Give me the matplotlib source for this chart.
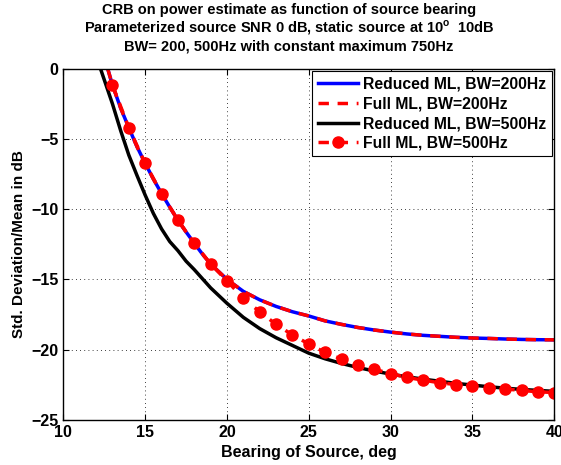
"""CRB on power estimate vs source bearing"""

import matplotlib

matplotlib.use("Agg")
import matplotlib.pyplot as plt

plt.rcParams["font.family"] = ["Liberation Sans", "DejaVu Sans"]
plt.rcParams["font.weight"] = "bold"
plt.rcParams["mathtext.fontset"] = "custom"
plt.rcParams["mathtext.rm"] = "Liberation Sans:bold"
plt.rcParams["mathtext.bf"] = "Liberation Sans:bold"

# reduced ML, BW=200Hz (full ML at 200Hz sits on the same curve)
bearing_200 = [12.71, 13, 13.5, 14, 14.5, 15, 15.5, 16, 16.5, 17, 17.5, 18,
               18.5, 19, 19.5, 20, 21, 22, 23, 24, 25, 26, 27, 28, 29, 30,
               31, 32, 33, 34, 35, 36, 37, 38, 39, 40]
reduced_200 = [0.0, -1.16, -2.8, -4.2, -5.55, -6.74, -7.85, -8.88, -9.85,
               -10.78, -11.62, -12.42, -13.2, -13.9, -14.45, -15.0, -15.85,
               -16.45, -16.92, -17.3, -17.6, -17.95, -18.2, -18.42, -18.6,
               -18.75, -18.88, -18.98, -19.05, -19.12, -19.17, -19.2, -19.24,
               -19.27, -19.29, -19.3]
full_200 = [0.0, -1.16, -2.8, -4.2, -5.55, -6.74, -7.85, -8.88, -9.85,
            -10.78, -11.62, -12.42, -13.2, -13.9, -14.45, -15.0, -15.85,
            -16.45, -16.92, -17.3, -17.6, -17.95, -18.2, -18.42, -18.6,
            -18.75, -18.88, -18.98, -19.05, -19.12, -19.17, -19.2, -19.24,
            -19.27, -19.29, -19.3]

# reduced ML, BW=500Hz
bearing_500 = [12.27, 13, 13.5, 14, 14.5, 15, 15.5, 16, 16.5, 17, 17.5, 18,
               18.5, 19, 19.5, 20, 21, 22, 23, 24, 25, 26, 27, 28, 29, 30,
               31, 32, 33, 34, 35, 36, 37, 38, 39, 40]
reduced_500 = [0.0, -2.5, -4.4, -6.15, -7.6, -9.0, -10.3, -11.4, -12.3,
               -12.95, -13.7, -14.3, -14.95, -15.6, -16.15, -16.7, -17.7,
               -18.5, -19.15, -19.7, -20.25, -20.65, -20.98, -21.27, -21.52,
               -21.74, -21.93, -22.1, -22.25, -22.4, -22.52, -22.64, -22.74,
               -22.83, -22.9, -22.97]

# full ML, BW=500Hz (marked points)
bearing_full_500 = [13, 14, 15, 16, 17, 18, 19, 20, 21, 22, 23, 24, 25, 26,
                    27, 28, 29, 30, 31, 32, 33, 34, 35, 36, 37, 38, 39, 40]
full_500 = [-1.16, -4.2, -6.74, -8.88, -10.78, -12.42, -13.9, -15.1, -16.35,
            -17.3, -18.2, -18.95, -19.6, -20.2, -20.67, -21.1, -21.4, -21.7,
            -21.98, -22.17, -22.36, -22.48, -22.6, -22.7, -22.8, -22.9,
            -23.0, -23.05]

xticks = [10, 15, 20, 25, 30, 35, 40]
yticks = [-25, -20, -15, -10, -5, 0]

fig = plt.figure(figsize=(5.61, 4.65), dpi=100)
ax = fig.add_axes([0.113, 0.097, 0.875, 0.755])

ax.plot(bearing_200, reduced_200, "-", color="#0000ff", lw=2.5,
        label="Reduced ML, BW=200Hz")
ax.plot(bearing_200, full_200, "--", color="#ff0000", lw=2.5,
        dashes=(3, 2.5), label="Full ML, BW=200Hz")
ax.plot(bearing_500, reduced_500, "-", color="black", lw=2.5,
        label="Reduced ML, BW=500Hz")
ax.plot(bearing_full_500, full_500, "--o", color="#ff0000", lw=2.5,
        dashes=(3, 2.5), markersize=8, label="Full ML, BW=500Hz")

ax.set_xlim(10, 40)
ax.set_ylim(-25, 0)
ax.set_xticks(xticks)
ax.set_yticks(yticks)
ax.set_xticklabels([str(t) for t in xticks])
ax.set_yticklabels(["\u2212" + str(-t) if t < 0 else str(t) for t in yticks])
ax.tick_params(direction="in", top=True, right=True, labelsize=11.5, length=4)
ax.grid(True, linestyle=(0, (1, 4)), color="black", lw=0.6)
for s in ax.spines.values():
    s.set_linewidth(1.0)

ax.set_xlabel("Bearing of Source, deg", fontsize=11.5, fontweight="bold", labelpad=4)
ax.set_ylabel("Std. Deviation/Mean in dB", fontsize=11, fontweight="bold", labelpad=4)

fig.text(0.515, 0.978, "CRB on power estimate as function of source bearing",
         ha="center", va="center", fontsize=10.5, fontweight="bold")
fig.text(0.515, 0.94,
         r"Parameterized source SNR 0 dB, static source at 10$^{\mathbf{o}}$  10dB",
         ha="center", va="center", fontsize=10.5, fontweight="bold")
fig.text(0.515, 0.901, "BW= 200, 500Hz with constant maximum 750Hz",
         ha="center", va="center", fontsize=10.5, fontweight="bold")

leg = ax.legend(loc="upper right", fontsize=11.3, frameon=True, fancybox=False,
                framealpha=1, edgecolor="black", borderaxespad=0.15,
                handlelength=2.6, labelspacing=0.3, borderpad=0.35,
                handletextpad=0.3)
leg.get_frame().set_linewidth(0.8)

fig.savefig("out.png", dpi=100)
